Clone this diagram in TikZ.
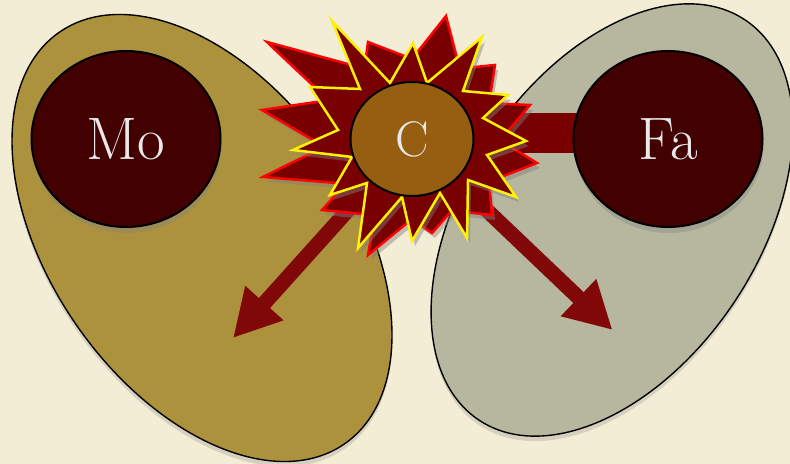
\documentclass[tikz,border=0pt]{standalone}
\usetikzlibrary{positioning, arrows.meta, shapes.geometric, shadows}
\usepackage{xcolor}

\definecolor{parchment}{RGB}{243,237,213}
\definecolor{gold}{RGB}{173,146,62}
\definecolor{sage}{RGB}{183,182,158}
\definecolor{maroon}{RGB}{66,0,0}
\definecolor{amber}{RGB}{150,94,16}
\definecolor{blood}{RGB}{120,0,0}
\definecolor{rust}{RGB}{128,8,8}
\definecolor{chalk}{RGB}{232,232,232}

\pgfdeclarelayer{back}
\pgfdeclarelayer{links}
\pgfsetlayers{back,links,main}

\begin{document}
\begin{tikzpicture}[
  x=0.5pt, y=0.5pt,
  lobe/.style={
    ellipse,
    draw=black,
    line width=0.7pt,
    inner sep=0pt,
    drop shadow={shadow xshift=0pt, shadow yshift=-2.5pt, opacity=0.25}
  },
  parent/.style={
    ellipse,
    draw=black,
    line width=1pt,
    fill=maroon,
    minimum width=94.5pt,
    minimum height=88pt,
    inner sep=0pt,
    text=chalk,
    font=\fontsize{30}{30}\selectfont,
    drop shadow={shadow xshift=0.5pt, shadow yshift=-3pt, opacity=0.35}
  },
  core/.style={
    ellipse,
    draw=black,
    line width=1pt,
    fill=amber,
    minimum width=61.5pt,
    minimum height=57pt,
    inner sep=0pt,
    text=chalk,
    font=\fontsize{25}{25}\selectfont
  },
  burst/.style={
    fill=blood,
    line width=1.25pt,
    line join=miter,
    drop shadow={shadow xshift=1.5pt, shadow yshift=-2.5pt, opacity=0.45}
  },
  arr/.style={-{Triangle[length=23.5pt, width=24pt]}, line width=7.5pt, draw=rust},
  bar/.style={line width=20pt, draw=blood}
]

\useasboundingbox (0,0) rectangle (790,464);

\begin{pgfonlayer}{back}
\fill[parchment] (0,0) rectangle (790,464);
\node[lobe, fill=gold, minimum width=250.4pt, minimum height=152.8pt, rotate=-55.3] (lobeL) at (202,226) {};
\node[lobe, fill=sage, minimum width=240.3pt, minimum height=147.3pt, rotate=56.4] (lobeR) at (612,244) {};
\end{pgfonlayer}

\node[core] (C) at (412,325) {C};
\node[parent, left=64pt of C] (Mo) {Mo};
\node[parent, right=49pt of C] (Fa) {Fa};

\coordinate (tipL) at (233,126);
\coordinate (tipR) at (612.5,134);

\begin{pgfonlayer}{links}
\draw[bar] ([yshift=3pt]C.center) -- ([yshift=3pt]Fa.center);
\draw[arr] (C.center) -- (tipL);
\draw[arr] (C.center) -- (tipR);

% outer burst
\draw[burst, draw=red, shift={(C.center)}]
  (-145,97) -- (124:85) -- (-44,97) -- (90:80) -- (34,123) -- (56:85) --
  (83,74) -- (25:85) -- (118,34) -- (-1:88) -- (125,-24) -- (-29:88) --
  (80,-76) -- (-61:82) -- (20,-94) -- (-90:80) -- (-44,-116) -- (-116:85) --
  (-90,-71) -- (-146:80) -- (-149,-38) -- (-175:88) -- (-150,29) -- (155:92) -- cycle;

% inner burst
\draw[burst, draw=yellow, shift={(C.center)}]
  (-80,118) -- (-22,56) -- (1,96) -- (15,56) -- (70,102) -- (51,48) --
  (96,44) -- (71,21) -- (114,-2) -- (75,-16) -- (104,-58) -- (56,-41) --
  (55,-99) -- (28,-54) -- (0,-102) -- (-10,-58) -- (-54,-109) -- (-45,-44) --
  (-82,-56) -- (-60,-18) -- (-119,-11) -- (-74,9) -- (-102,52) -- (-52,50) -- cycle;
\end{pgfonlayer}

\end{tikzpicture}
\end{document}
